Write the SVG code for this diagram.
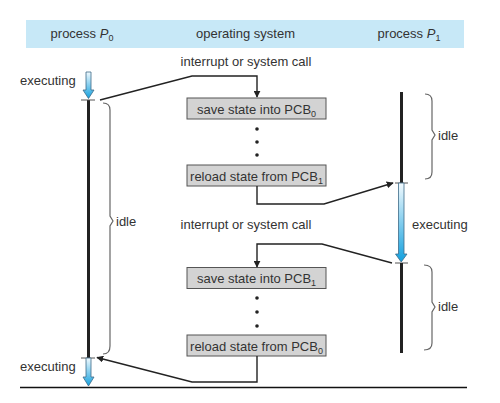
<svg xmlns="http://www.w3.org/2000/svg" width="500" height="403" viewBox="0 0 500 403">
<defs>
<style>
text{font-family:"Liberation Sans",Arial,sans-serif;font-size:13px;fill:#333}
.sub{font-size:9px}
.box{fill:#d3d3d3;stroke:#555;stroke-width:1}
.conn{fill:none;stroke:#222;stroke-width:1.4}
.brace{fill:none;stroke:#666;stroke-width:1.2}
.life{stroke:#222;stroke-width:3}
.tick{stroke:#555;stroke-width:1}
.exec{fill:url(#blueGrad);stroke:#3d6b88;stroke-width:0.8}
.dot{fill:#222}
</style>
<linearGradient id="blueGrad" x1="0" y1="0" x2="0" y2="1">
<stop offset="0" stop-color="#f2fafe"/>
<stop offset="1" stop-color="#12a0de"/>
</linearGradient>
<marker id="ah" viewBox="0 0 10 10" refX="9" refY="5" markerWidth="7" markerHeight="7" markerUnits="userSpaceOnUse" orient="auto">
<path d="M0,0 L10,5 L0,10 z" fill="#222"/>
</marker>
</defs>
<rect width="500" height="403" fill="#ffffff"/>
<g id="header">
<rect x="26" y="20" width="438" height="28" fill="#c7e8f7"/>
<text x="82" y="38" text-anchor="middle">process <tspan font-style="italic">P</tspan><tspan class="sub" dy="3">0</tspan></text>
<text x="245.5" y="38" text-anchor="middle">operating system</text>
<text x="409" y="38" text-anchor="middle">process <tspan font-style="italic">P</tspan><tspan class="sub" dy="3">1</tspan></text>
</g>
<g id="p0">
<path class="exec" d="M86,72 H91 V90 H94 L88.5,98.5 L83,90 H86 Z"/>
<line class="life" x1="88.5" y1="100" x2="88.5" y2="358"/>
<line class="tick" x1="81" y1="100" x2="95" y2="100"/>
<line class="tick" x1="81" y1="358" x2="95" y2="358"/>
<path class="exec" d="M86,358 H91 V377 H94 L88.5,386 L83,377 H86 Z"/>
<text x="20" y="85">executing</text>
<text x="20" y="371">executing</text>
<path class="brace" d="M103,103 Q110,103 110,110 L110,216 L113,221 L110,226 L110,346 Q110,354 103,354"/>
<text x="116" y="226">idle</text>
</g>
<g id="os">
<text x="246" y="66" text-anchor="middle">interrupt or system call</text>
<rect class="box" x="187" y="98" width="139" height="21"/>
<text x="256.5" y="113.5" text-anchor="middle">save state into PCB<tspan class="sub" dy="3">0</tspan></text>
<circle class="dot" cx="257" cy="129" r="1.8"/>
<circle class="dot" cx="257" cy="142" r="1.8"/>
<circle class="dot" cx="257" cy="155" r="1.8"/>
<rect class="box" x="187" y="165" width="139" height="21"/>
<text x="256.5" y="180.5" text-anchor="middle">reload state from PCB<tspan class="sub" dy="3">1</tspan></text>
<text x="246" y="229" text-anchor="middle">interrupt or system call</text>
<rect class="box" x="187" y="267.5" width="139" height="21"/>
<text x="256.5" y="283" text-anchor="middle">save state into PCB<tspan class="sub" dy="3">1</tspan></text>
<circle class="dot" cx="257" cy="298" r="1.8"/>
<circle class="dot" cx="257" cy="312" r="1.8"/>
<circle class="dot" cx="257" cy="326" r="1.8"/>
<rect class="box" x="187" y="335" width="139" height="21"/>
<text x="256.5" y="350.5" text-anchor="middle">reload state from PCB<tspan class="sub" dy="3">0</tspan></text>
</g>
<g id="p1">
<line class="life" x1="401.5" y1="92" x2="401.5" y2="183"/>
<line class="tick" x1="395" y1="183" x2="408" y2="183"/>
<path class="exec" d="M398.5,183 H404 V254 H407 L401.2,262 L395.5,254 H398.5 Z"/>
<line class="tick" x1="395" y1="263" x2="408" y2="263"/>
<line class="life" x1="401.5" y1="263" x2="401.5" y2="353"/>
<path class="brace" d="M425,94 Q432,94 432,101 L432,130 L435,135 L432,140 L432,172 Q432,179 425,179"/>
<text x="438" y="140">idle</text>
<text x="412" y="229">executing</text>
<path class="brace" d="M424,265 Q432,265 432,272 L432,302 L435,307 L432,312 L432,343 Q432,350 424,350"/>
<text x="438" y="311">idle</text>
</g>
<g id="connectors">
<polyline class="conn" points="100,100 192,76 257,76 257,97" marker-end="url(#ah)"/>
<polyline class="conn" points="257,186 257,204 324,204 393,183" marker-end="url(#ah)"/>
<polyline class="conn" points="392,263 322,244 257,244 257,267" marker-end="url(#ah)"/>
<polyline class="conn" points="257,356 257,382 192,382 97,357.5" marker-end="url(#ah)"/>
</g>
<line x1="20" y1="387.5" x2="467" y2="387.5" stroke="#111" stroke-width="1.6"/>
</svg>
